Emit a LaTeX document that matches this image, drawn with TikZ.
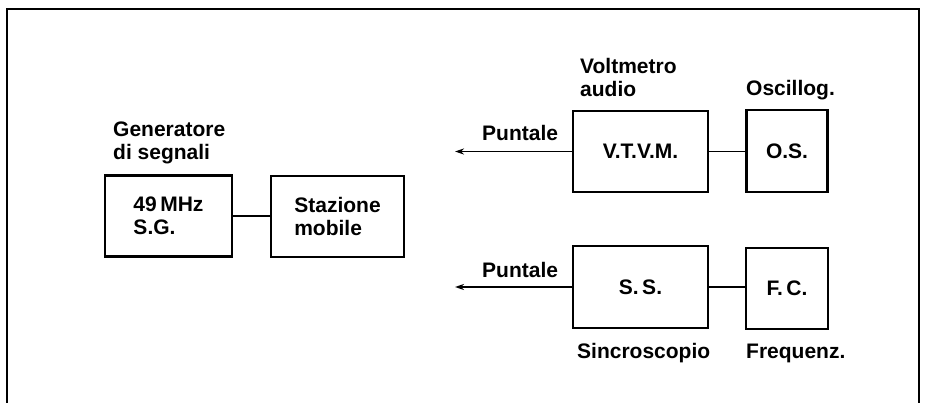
\documentclass[tikz,border=0pt]{standalone}
\usepackage{fontspec}
\setmainfont{Liberation Sans}
\usetikzlibrary{arrows.meta}
\begin{document}
\begin{tikzpicture}[x=1pt,y=-1pt,
  txt/.style={font=\fontsize{21}{23}\selectfont\bfseries, inner sep=0pt, align=left},
  blk/.style={draw, line width=2.8pt, rectangle, inner sep=0pt, align=left,
     font=\fontsize{21}{23}\selectfont\bfseries},
  link/.style={line width=1.5pt},
  probe/.style={line width=1.5pt, -{Stealth[length=9pt,width=6pt]}},
  frame/.style={line width=2.2pt}]
\useasboundingbox (0,0) rectangle (928,403);
% frame
\coordinate (f1) at (7,403);
\coordinate (f2) at (7,9);
\coordinate (f3) at (919,9);
\coordinate (f4) at (919,403);
\draw[frame] (f1) -- (f2) -- (f3) -- (f4);
% blocks
\node[blk, minimum width=127pt, minimum height=81pt] (sg) at (168.5,216) {49\,MHz\\S.G.};
\node[blk, minimum width=133pt, minimum height=81pt] (st) at (337.5,216.5) {Stazione\\mobile};
\node[blk, minimum width=135pt, minimum height=81pt] (vtvm) at (640.5,151.5) {V.T.V.M.};
\node[blk, minimum width=81pt, minimum height=82pt] (os) at (787,151) {O.S.};
\node[blk, minimum width=135pt, minimum height=82pt] (ss) at (640.5,287) {S.\,S.};
\node[blk, minimum width=82pt, minimum height=81pt] (fc) at (787,288.5) {F.\,C.};
% labels
\node[txt, anchor=west] (lgen) at (113,143) {Generatore\\di segnali};
\node[txt, anchor=west] (lvolt) at (580,77.5) {Voltmetro\\audio};
\node[txt, anchor=west] (losc) at (746,90) {Oscillog.};
\node[txt, anchor=west] (lp1) at (482,133) {Puntale};
\node[txt, anchor=west] (lp2) at (482,270) {Puntale};
\node[txt, anchor=west] (lsin) at (577,353) {Sincroscopio};
\node[txt, anchor=west] (lfre) at (746,353) {Frequenz.};
% connectors
\draw[link] (sg.east) -- (st.west |- sg.east);
\draw[link] (vtvm.east) -- (os.west |- vtvm.east);
\draw[link] (ss.east) -- (fc.west |- ss.east);
\coordinate (p1) at (455,151.5);
\coordinate (p2) at (455,287);
\draw[probe] (vtvm.west) -- (p1);
\draw[probe] (ss.west) -- (p2);
\end{tikzpicture}
\end{document}
